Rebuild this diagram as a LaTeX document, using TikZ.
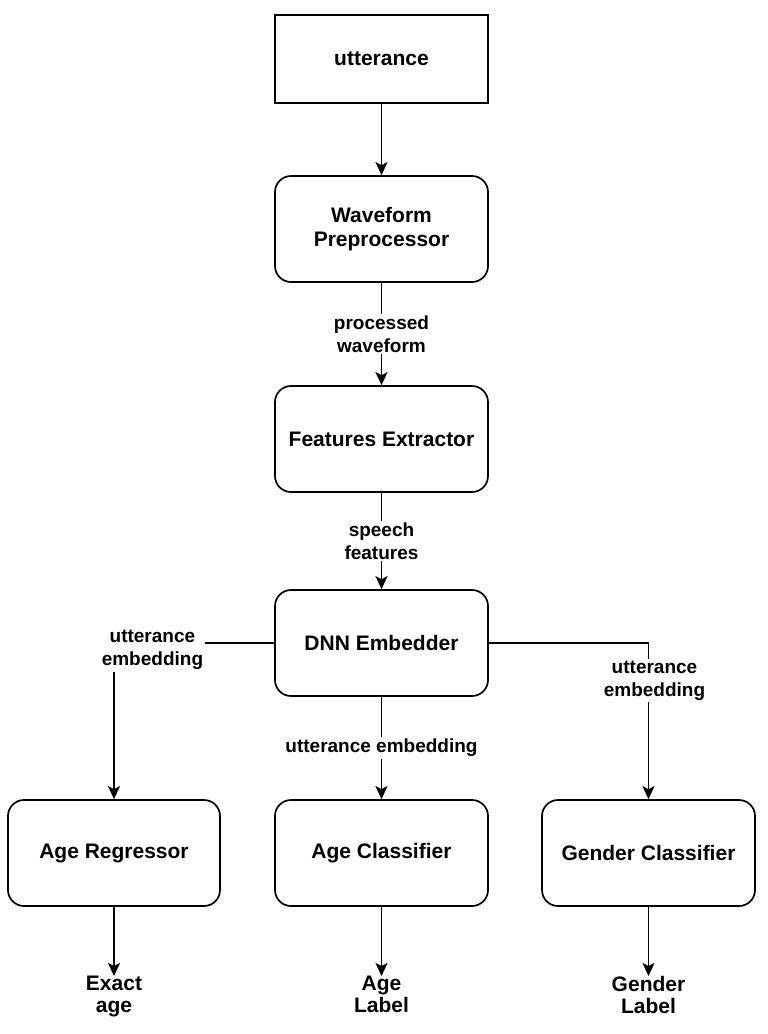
\documentclass[tikz,border=0pt]{standalone}
\usepackage{fontspec}
\setmainfont{Liberation Sans}
\usetikzlibrary{arrows.meta}
\usetikzlibrary{positioning}
\tikzset{
  box/.style={draw, line width=1.7pt, minimum width=213pt, minimum height=106pt, align=center, font=\fontsize{21}{24}\selectfont\bfseries},
  rbox/.style={box, rounded corners=16pt},
  lbl/.style={fill=white, inner sep=2pt, align=center, font=\fontsize{19}{23}\selectfont\bfseries},
  outlbl/.style={inner sep=0pt, align=center, font=\fontsize{21}{22}\selectfont\bfseries},
  flow/.style={line width=1.7pt, -{Stealth[length=13pt,width=12pt,inset=3pt]}},
}

\begin{document}
\begin{tikzpicture}[x=1pt,y=-1pt]
\useasboundingbox (0,0) rectangle (768,1034);
\def\xl{114}
\def\xm{381.5}
\def\xr{648.5}
% pipeline down the middle
\node[box, minimum height=88pt] (utt) at (\xm,59) {utterance};
\node[rbox] (wav) at (\xm,229) {Waveform\\Preprocessor};
\node[rbox] (feat) at (\xm,439) {Features Extractor};
\node[rbox] (dnn) at (\xm,643) {DNN Embedder};
% three heads
\node[rbox, minimum width=212pt] (reg) at (\xl,853) {Age Regressor};
\node[rbox] (cls) at (\xm,853) {Age Classifier};
\node[rbox] (gen) at (\xr,853) {Gender Classifier};
% outputs
\node[outlbl, anchor=north] (exact) at (\xl,976) {Exact\\age};
\node[outlbl, anchor=north] (agelab) at (\xm,976) {Age\\Label};
\node[outlbl, anchor=north] (genlab) at (\xr,976) {Gender\\Label};
% connectors
\draw[flow] (utt) -- (wav);
\draw[flow] (wav) -- node[lbl]{processed\\waveform} (feat);
\draw[flow] (feat) -- node[lbl]{speech\\features} (dnn);
\draw[flow] (dnn) -- node[lbl]{utterance embedding} (cls);
\draw[flow] (dnn.west) -| node[lbl, pos=0.38, yshift=-7pt]{utterance\\embedding} (reg.north);
\draw[flow] (dnn.east) -| node[lbl, pos=0.62, xshift=6pt]{utterance\\embedding} (gen.north);
\foreach \a/\b in {reg/exact, cls/agelab, gen/genlab}
  \draw[flow] (\a) -- (\b);
\end{tikzpicture}
\end{document}
